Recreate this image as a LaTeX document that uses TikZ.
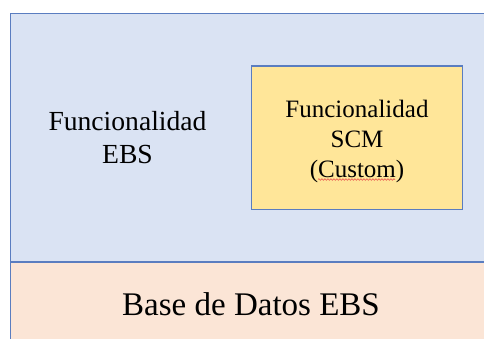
\documentclass[tikz,border=0pt]{standalone}
\usepackage{fontspec}
\setmainfont{Liberation Serif}
\usetikzlibrary{decorations.pathmorphing}
\definecolor{ebsblue}{HTML}{DAE3F3}
\definecolor{scmyellow}{HTML}{FFE699}
\definecolor{dbpeach}{HTML}{FBE5D6}
\definecolor{edgeblue}{HTML}{5A7DC0}
\definecolor{spellred}{HTML}{E8504A}
\tikzset{
  panel/.style={draw=edgeblue, line width=1.1pt},
  lbl/.style={inner sep=0pt, align=center, text=black},
}
\begin{document}
\begin{tikzpicture}[x=1pt,y=-1pt]
\useasboundingbox (0,0) rectangle (484,338);
\begin{scope}
\clip (0,0) rectangle (484,338);
\fill[white] (0,0) rectangle (484,338);
% EBS functionality region
\draw[panel, fill=ebsblue] (10.5,13.5) rectangle (500,262);
% database region
\draw[panel, fill=dbpeach] (10.5,262) rectangle (500,360);
\end{scope}
% SCM custom box
\draw[panel, fill=scmyellow] (251.5,66) rectangle (462.5,209.5);
\node[lbl, font=\fontsize{27.6}{33}\selectfont] (ebs) at (127.5,138) {Funcionalidad\\EBS};
\node[lbl, font=\fontsize{25}{30}\selectfont] (scm) at (357,141) {Funcionalidad\\SCM\\(Custom)};
\node[lbl, font=\fontsize{33}{40}\selectfont, anchor=base] (db) at (251,315) {Base de Datos EBS};
\coordinate (sqa) at (318,179.5);
\coordinate (sqb) at (395,179.5);
\draw[spellred, line width=0.6pt, decorate, decoration={snake, amplitude=0.8pt, segment length=3pt}] (sqa) -- (sqb);
\end{tikzpicture}
\end{document}
